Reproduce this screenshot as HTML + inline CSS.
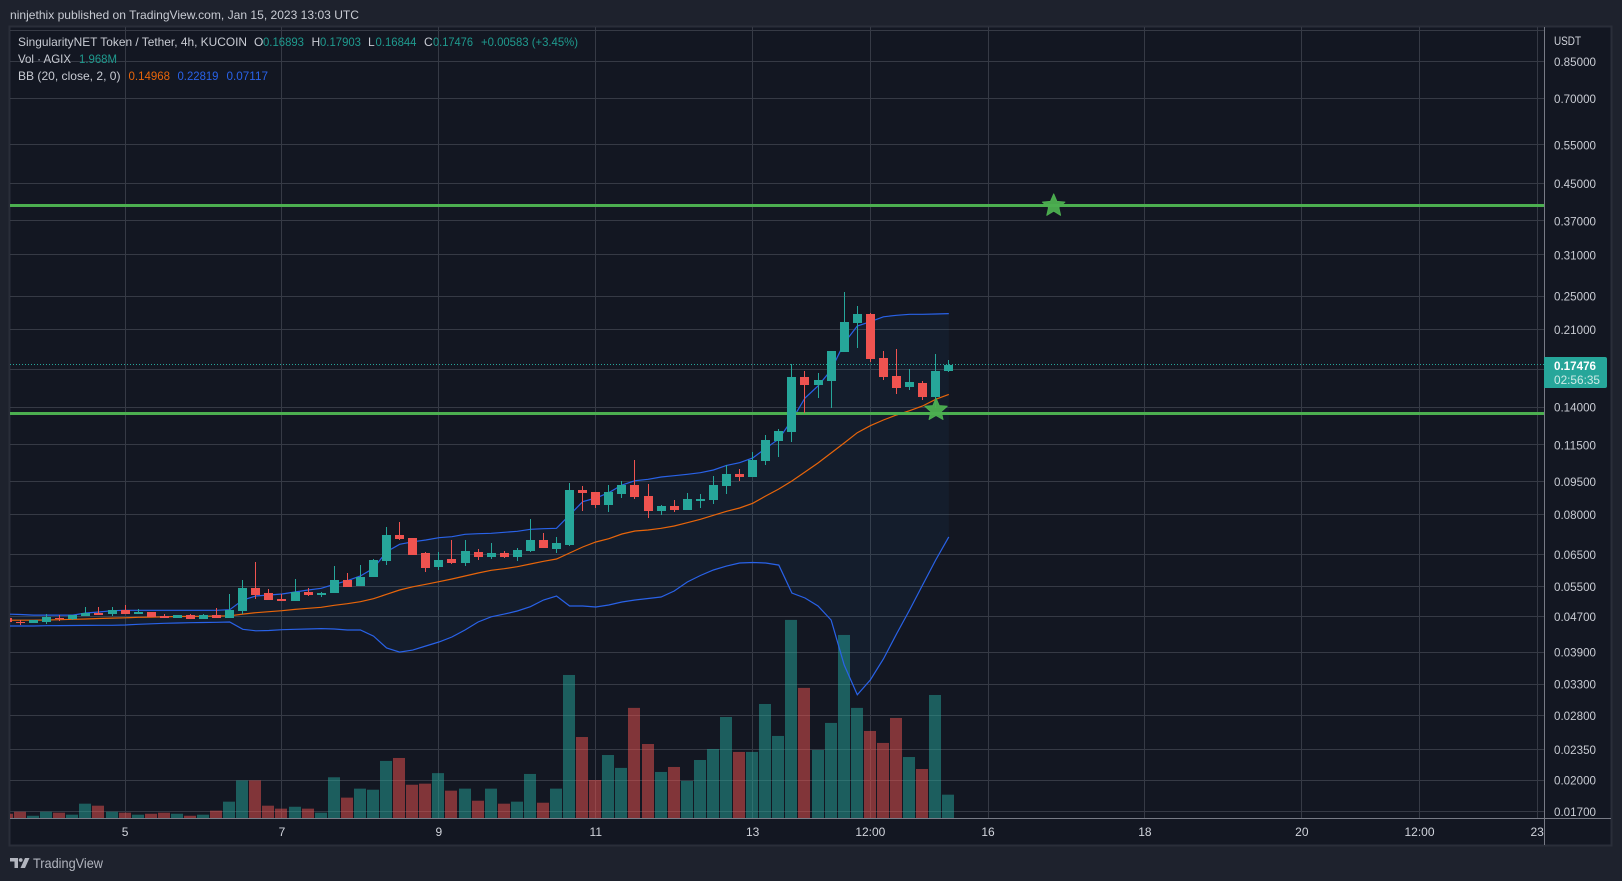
<!DOCTYPE html>
<html lang="en">
<head>
<meta charset="utf-8">
<title>SingularityNET Token / Tether chart</title>
<style>
html,body{margin:0;padding:0;background:#1e222d;width:1622px;height:881px;overflow:hidden}
svg{display:block}
text{font-family:"Liberation Sans",sans-serif}
</style>
</head>
<body>
<svg id="chart" xmlns="http://www.w3.org/2000/svg" width="1622" height="881" viewBox="0 0 1622 881">
  <rect x="0" y="0" width="1622" height="881" fill="#1e222d"/>
  <text x="10" y="19" font-size="12" fill="#c8cbd3" textLength="349" lengthAdjust="spacingAndGlyphs">ninjethix published on TradingView.com, Jan 15, 2023 13:03 UTC</text>
  <rect x="9.5" y="26.5" width="1602" height="819" fill="#131722" stroke="#2a2e39" stroke-width="2"/>
  <g id="plot"></g>
  <line x1="1544.5" y1="27" x2="1544.5" y2="845" stroke="#787b86" stroke-width="1"/>
  <line x1="10" y1="818.5" x2="1611" y2="818.5" stroke="#787b86" stroke-width="1"/>
  <g id="priceAxis">
    <text x="1554" y="45" font-size="12" fill="#d1d4dc" textLength="27" lengthAdjust="spacingAndGlyphs">USDT</text>
  </g>
  <g id="timeAxis"></g>
  <g>
    <path d="M1544 357H1605a2 2 0 0 1 2 2V386a2 2 0 0 1-2 2H1544Z" fill="#26a69a"/>
    <text x="1554" y="370" font-size="12" font-weight="bold" fill="#ffffff" textLength="42" lengthAdjust="spacingAndGlyphs">0.17476</text>
    <text x="1554" y="384" font-size="12" fill="#cdeae6" textLength="46" lengthAdjust="spacingAndGlyphs">02:56:35</text>
  </g>
  <g font-size="12">
    <text x="18" y="46" fill="#c8cbd3" textLength="229" lengthAdjust="spacingAndGlyphs">SingularityNET Token / Tether, 4h, KUCOIN</text>
    <text x="254" y="46" fill="#c8cbd3">O</text>
    <text x="263" y="46" fill="#1f9a8e" textLength="41" lengthAdjust="spacingAndGlyphs">0.16893</text>
    <text x="311.500" y="46" fill="#c8cbd3">H</text>
    <text x="320" y="46" fill="#1f9a8e" textLength="41" lengthAdjust="spacingAndGlyphs">0.17903</text>
    <text x="368" y="46" fill="#c8cbd3">L</text>
    <text x="375.500" y="46" fill="#1f9a8e" textLength="41" lengthAdjust="spacingAndGlyphs">0.16844</text>
    <text x="424" y="46" fill="#c8cbd3">C</text>
    <text x="433" y="46" fill="#1f9a8e" textLength="40" lengthAdjust="spacingAndGlyphs">0.17476</text>
    <text x="481" y="46" fill="#1f9a8e" textLength="97" lengthAdjust="spacingAndGlyphs">+0.00583 (+3.45%)</text>
    <text x="18" y="63" fill="#c8cbd3" textLength="53" lengthAdjust="spacingAndGlyphs">Vol · AGIX</text>
    <text x="79" y="63" fill="#1f9a8e" textLength="38" lengthAdjust="spacingAndGlyphs">1.968M</text>
    <text x="18" y="80" fill="#c8cbd3" textLength="102.500" lengthAdjust="spacingAndGlyphs">BB (20, close, 2, 0)</text>
    <text x="128.500" y="80" fill="#e8650a" textLength="41.500" lengthAdjust="spacingAndGlyphs">0.14968</text>
    <text x="177.500" y="80" fill="#2962e8" textLength="41" lengthAdjust="spacingAndGlyphs">0.22819</text>
    <text x="226.500" y="80" fill="#2962e8" textLength="41.500" lengthAdjust="spacingAndGlyphs">0.07117</text>
  </g>
  <g>
    <path d="M10 858H18V868H14.500V861.500H10Z" fill="#b2b5be"/>
    <circle cx="20.700" cy="860" r="1.900" fill="#b2b5be"/>
    <path d="M25 858H29.500L25 868H20.500Z" fill="#b2b5be"/>
    <text x="33" y="868" font-size="14" fill="#b2b5be" textLength="70" lengthAdjust="spacingAndGlyphs">TradingView</text>
  </g>
</svg>
<script>
const opens  = [.04660,.04564,.04540,.04564,.04660,.04636,.04709,.04783,.04758,.04859,.04758,.04808,.04709,.04660,.04733,.04636,.04733,.04660,.04834,.05450,.05309,.05146,.05092,.05337,.05254,.05309,.05682,.05507,.05771,.06274,.07186,.07075,.06542,.06081,.06340,.06209,.06576,.06407,.06542,.06407,.06610,.07001,.06680,.06821,.09088,.08994,.08404,.08900,.09329,.08808,.08144,.08360,.08187,.08581,.08626,.09280,.09879,.09725,.10573,.11736,.12300,.16389,.15720,.16051,.18673,.21724,.22767,.18098,.16475,.15557,.15884,.14765,.16893];
const highs  = [.04660,.04612,.04612,.04758,.04733,.04733,.04936,.04936,.04936,.04987,.04884,.04808,.04758,.04733,.04758,.04758,.04910,.05282,.05682,.06241,.05421,.05282,.05712,.05450,.05337,.06112,.05893,.06144,.06340,.07492,.07690,.07075,.06576,.06576,.07001,.07001,.06680,.06892,.06610,.06715,.07811,.07262,.07112,.09426,.09280,.08994,.09329,.09525,.10628,.09377,.08404,.08626,.08947,.08900,.09776,.10354,.10141,.11081,.12106,.12494,.17540,.16911,.16735,.18771,.25538,.23737,.22886,.18771,.18966,.17088,.16051,.18479,.17903];
const lows   = [.04564,.04493,.04540,.04517,.04588,.04612,.04709,.04733,.04709,.04758,.04758,.04684,.04660,.04660,.04636,.04636,.04660,.04660,.04758,.05146,.05119,.05092,.05092,.05227,.05200,.05309,.05478,.05507,.05771,.06144,.07001,.06474,.05924,.05986,.06177,.06112,.06307,.06340,.06374,.06274,.06576,.06715,.06542,.06785,.08144,.08273,.08102,.08717,.08671,.07852,.07976,.08102,.08187,.08273,.08448,.08900,.09525,.09725,.10354,.10795,.11674,.13583,.14688,.13942,.18673,.19068,.17724,.16135,.14998,.15314,.14536,.13942,.16844];
const closes = [.04564,.04540,.04612,.04684,.04636,.04733,.04783,.04733,.04859,.04758,.04808,.04684,.04660,.04733,.04636,.04733,.04660,.04859,.05450,.05254,.05119,.05092,.05337,.05254,.05309,.05682,.05478,.05771,.06307,.07186,.07038,.06474,.06049,.06307,.06209,.06610,.06407,.06542,.06407,.06645,.07001,.06715,.06892,.09088,.08947,.08404,.08994,.09329,.08762,.08144,.08360,.08187,.08671,.08671,.09329,.09879,.09725,.10628,.11797,.12364,.16389,.15720,.16135,.18771,.21838,.22767,.18004,.16389,.15475,.15967,.14765,.16911,.17476];
const volumesM = [.36,.53,.19,.53,.45,.28,1.21,1.04,.53,.45,.28,.36,.45,.36,.19,.28,.62,1.38,3.18,3.18,1.04,.79,.95,.79,.45,3.44,1.72,2.48,2.39,4.82,5.07,2.81,2.90,3.79,2.31,2.48,1.46,2.48,1.21,1.38,3.72,1.29,2.48,12.08,6.84,3.21,5.32,4.23,9.30,6.25,3.89,4.31,3.13,4.90,5.83,8.53,5.58,5.58,9.63,6.93,16.73,10.99,5.75,8.03,15.46,9.30,7.35,6.34,8.45,5.15,4.14,10.39,1.97];
const bbUpper = [.04758,.04746,.04733,.04733,.04733,.04733,.04783,.04808,.04841,.04851,.04851,.04851,.04851,.04851,.04851,.04851,.04851,.04866,.05119,.05227,.05254,.05282,.05337,.05393,.05441,.05556,.05661,.05802,.06040,.06587,.06845,.06938,.07001,.07086,.07123,.07213,.07235,.07250,.07288,.07327,.07403,.07426,.07441,.07976,.08550,.08717,.08961,.09329,.09540,.09609,.09725,.09792,.09863,.09946,.10088,.10333,.10480,.10739,.11297,.11858,.13095,.14688,.15637,.16999,.19571,.21387,.21872,.22436,.22615,.22733,.22733,.22767,.22819];
const bbBasis = [.04605,.04607,.04607,.04612,.04619,.04629,.04636,.04648,.04658,.04667,.04677,.04684,.04691,.04697,.04699,.04702,.04709,.04716,.04758,.04791,.04816,.04841,.04876,.04902,.04928,.04980,.05023,.05074,.05154,.05274,.05393,.05486,.05556,.05632,.05712,.05802,.05893,.05977,.06027,.06091,.06177,.06264,.06340,.06542,.06750,.06928,.07049,.07224,.07338,.07376,.07441,.07532,.07662,.07799,.07964,.08131,.08273,.08478,.08808,.09136,.09525,.09983,.10463,.11023,.11614,.12255,.12711,.13095,.13442,.13747,.14088,.14589,.14968];
const bbLower = [.04470,.04470,.04470,.04477,.04479,.04482,.04484,.04486,.04486,.04493,.04510,.04521,.04533,.04540,.04547,.04552,.04557,.04564,.04393,.04361,.04366,.04384,.04393,.04400,.04411,.04400,.04377,.04377,.04242,.03985,.03902,.03943,.04027,.04112,.04220,.04377,.04564,.04691,.04758,.04834,.04943,.05119,.05227,.04961,.04961,.04936,.04987,.05066,.05119,.05160,.05200,.05365,.05623,.05817,.05986,.06112,.06209,.06225,.06209,.06144,.05309,.05173,.04961,.04612,.03647,.03123,.03372,.03763,.04287,.04859,.05536,.06307,.07117];
const priceTicks = [0.85,0.70,0.55,0.45,0.37,0.31,0.25,0.21,0.14,0.115,0.095,0.08,0.065,0.055,0.047,0.039,0.033,0.028,0.0235,0.02,0.017];
const hiddenPriceTicks = [1.0,0.17];
const timeTickLabels = ["5","7","9","11","13","12:00","16","18","20","12:00","23"];
const timeTickBars = [9,21,33,45,57,66,75,87,99,108,117];
const levelPrices = [0.40139,0.13562];
const starBars = [80,71];
const starPrices = [0.4005,0.1380];
const lastPrice = 0.17476;

const NS = 'http://www.w3.org/2000/svg';
const plot = document.getElementById('plot');
const priceAxis = document.getElementById('priceAxis');
const timeAxis = document.getElementById('timeAxis');
const scaleX = i => 7.4 + 13.075 * i;
const scaleY = p => 61.5 + 191.67 * Math.log(0.85 / p);
const scaleVol = v => v * 11.84;
function mk(tag, attrs, parent) {
  const el = document.createElementNS(NS, tag);
  for (const k in attrs) el.setAttribute(k, attrs[k]);
  parent.appendChild(el);
  return el;
}

const defs = mk('defs', {}, plot);
const clip = mk('clipPath', {id: 'plotClip'}, defs);
mk('rect', {x: 10, y: 27, width: 1534, height: 791}, clip);
const clipped = mk('g', {'clip-path': 'url(#plotClip)'}, plot);



/* grid */
hiddenPriceTicks.concat(priceTicks).forEach(p => {
  const y = Math.floor(scaleY(p)) + .5;
  const l = mk('line', {x1: 10, x2: 1544, y1: y, y2: y, stroke: '#363a45', 'stroke-width': 1}, clipped);
  
  
});
timeTickBars.forEach(b => {
  const x = Math.floor(scaleX(b)) + .5;
  const l = mk('line', {x1: x, x2: x, y1: 27, y2: 818, stroke: '#363a45', 'stroke-width': 1}, clipped);
  
  
});

/* volume */
volumesM.forEach((v, i) => {
  const h = scaleVol(v);
  const up = closes[i] >= opens[i];
  const r = mk('rect', {x: Math.floor(scaleX(i)) - 6, y: 818 - h, width: 12, height: h,
    fill: up ? 'rgba(38,166,154,.5)' : 'rgba(239,83,80,.5)'}, clipped);
  
  
});

/* bollinger bands */
const linePts = arr => arr.map((p, i) => scaleX(i).toFixed(1) + ',' + scaleY(p).toFixed(1));
const band = mk('polygon', {points: linePts(bbUpper).concat(linePts(bbLower).reverse()).join(' '), fill: 'rgba(33,150,243,.05)'}, clipped);


const up = mk('polyline', {points: linePts(bbUpper).join(' '), fill: 'none', stroke: '#2962e8', 'stroke-width': 1.2}, clipped);


const low = mk('polyline', {points: linePts(bbLower).join(' '), fill: 'none', stroke: '#2962e8', 'stroke-width': 1.2}, clipped);


const bas = mk('polyline', {points: linePts(bbBasis).join(' '), fill: 'none', stroke: '#e8650a', 'stroke-width': 1.2}, clipped);



/* last price line */
const lp = mk('line', {x1: 10, x2: 1544, y1: Math.floor(scaleY(lastPrice)) + .5, y2: Math.floor(scaleY(lastPrice)) + .5,
  stroke: '#26a69a', 'stroke-width': 1, 'stroke-dasharray': '1 2'}, clipped);



/* level lines */
levelPrices.forEach(p => {
  const y = Math.floor(scaleY(p)) + .5;
  const l = mk('line', {x1: 10, x2: 1544, y1: y, y2: y, stroke: '#4caf50', 'stroke-width': 3}, clipped);
  
  
});

/* candles */
opens.forEach((o, i) => {
  const c = closes[i], color = c >= o ? '#26a69a' : '#ef5350';
  const cx = Math.floor(scaleX(i));
  const g = mk('g', {fill: color}, clipped);
  
  
  const yH = Math.round(scaleY(highs[i])), yL = Math.round(scaleY(lows[i]));
  const t = Math.round(scaleY(Math.max(o, c))), b = Math.round(scaleY(Math.min(o, c)));
  mk('rect', {x: cx, y: yH, width: 1, height: Math.max(1, yL - yH)}, g);
  mk('rect', {x: cx - 4, y: t, width: 9, height: Math.max(1, b - t)}, g);
});

/* stars */
starBars.forEach((b, k) => {
  const cx = scaleX(b) + .3, cy = scaleY(starPrices[k]), R = 11.8, r = 5.4, pts = [];
  for (let n = 0; n < 10; n++) {
    const a = -Math.PI / 2 + n * Math.PI / 5, q = n % 2 ? r : R;
    pts.push((cx + q * Math.cos(a)).toFixed(1) + ',' + (cy + q * Math.sin(a)).toFixed(1));
  }
  const s = mk('polygon', {points: pts.join(' '), fill: '#4caf50', 'fill-opacity': .95, stroke: '#4caf50', 'stroke-width': 1, 'stroke-linejoin': 'round'}, clipped);
  
  
});

/* price axis labels */
priceTicks.forEach(p => {
  const t = mk('text', {x: 1554, y: scaleY(p) + 4.5, 'font-size': 12, fill: '#c8cbd3', textLength: 42, lengthAdjust: 'spacingAndGlyphs'}, priceAxis);
  
  
  t.textContent = p.toFixed(5);
});

/* time axis labels */
timeTickLabels.forEach((label, k) => {
  const t = mk('text', {x: scaleX(timeTickBars[k]), y: 836, 'font-size': 12, fill: '#d1d4dc', 'text-anchor': 'middle'}, timeAxis);
  
  
  t.textContent = label;
});
</script>
</body>
</html>
